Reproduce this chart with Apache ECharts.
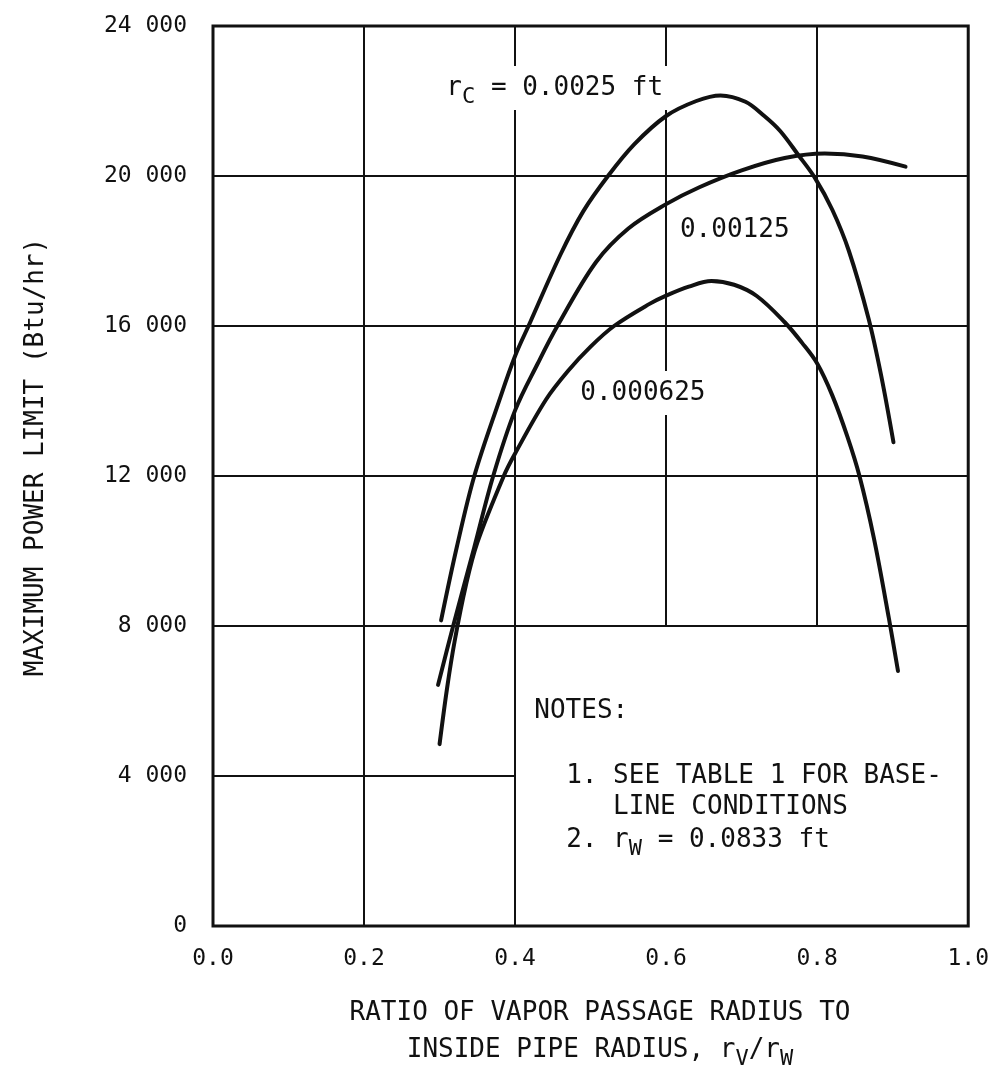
<!DOCTYPE html>
<html><head><meta charset="utf-8">
<script src="https://cdn.jsdelivr.net/npm/echarts@6/dist/echarts.min.js"></script>
<style>html,body{margin:0;padding:0;background:#fff}#c{width:992px;height:1069px}</style>
</head><body><div id="c"></div>
<script>
// ---- data ----
const xTicks = [0.0, 0.2, 0.4, 0.6, 0.8, 1.0];
const yTicks = [0, 4000, 8000, 12000, 16000, 20000, 24000];
const curveNames = ['0.0025', '0.00125', '0.000625'];
const rcA_x = [0.302,0.323,0.346,0.379,0.400,0.420,0.460,0.490,0.523,0.558,0.600,0.640,0.672,0.705,0.730,0.751,0.775,0.797,0.820,0.842,0.868,0.885,0.901];
const rcA_y = [8150,10120,12000,14010,15200,16100,17900,19050,20000,20850,21600,22000,22150,21980,21600,21200,20560,19950,19100,18000,16200,14650,12900];
const rcB_x = [0.298,0.318,0.346,0.371,0.400,0.430,0.456,0.507,0.550,0.600,0.644,0.700,0.757,0.810,0.860,0.917];
const rcB_y = [6430,8000,10100,12000,13750,15000,16000,17700,18600,19250,19700,20150,20480,20600,20520,20250];
const rcC_x = [0.300,0.310,0.320,0.335,0.350,0.385,0.400,0.441,0.470,0.500,0.531,0.578,0.600,0.630,0.660,0.690,0.720,0.757,0.780,0.800,0.820,0.840,0.856,0.875,0.895,0.907];
const rcC_y = [4850,6350,7600,9100,10225,12000,12600,14040,14800,15450,16000,16590,16810,17050,17200,17100,16800,16100,15550,15000,14150,13050,12000,10350,8200,6800];
const notesBoxX = 0.4, notesBoxY = 8000;   // notes panel occupies x>0.4, y<8000
const xTitle1 = 'RATIO OF VAPOR PASSAGE RADIUS TO';
const noteLines = ['NOTES:', '1. SEE TABLE 1 FOR BASE-', '   LINE CONDITIONS'];

// ---- chart ----
const FONT = "'DejaVu Sans Mono', monospace";
const INK = '#111';
const zip = (xs, ys) => xs.map((x, i) => [x, ys[i]]);
const xMin = xTicks[0], xMax = xTicks[xTicks.length - 1];
const yMin = yTicks[0], yMax = yTicks[yTicks.length - 1];

const gridSegs = [];
xTicks.slice(1, -1).forEach(x => {
  gridSegs.push([{ coord: [x, x > notesBoxX + 1e-9 ? notesBoxY : yMin] }, { coord: [x, yMax] }]);
});
yTicks.slice(1, -1).forEach(y => {
  gridSegs.push([{ coord: [xMin, y] }, { coord: [y < notesBoxY ? notesBoxX : xMax, y] }]);
});

const curve = (name, data) => ({
  name, type: 'line', data, smooth: 0.35, showSymbol: false, symbol: 'none', z: 5,
  lineStyle: { color: INK, width: 4, cap: 'round', join: 'round' }, silent: true
});

const chart = echarts.init(document.getElementById('c'), null, { renderer: 'canvas' });
chart.setOption({
  animation: false,
  backgroundColor: '#fff',
  grid: { left: 213, right: 22, top: 26, bottom: 143, show: true, borderColor: INK, borderWidth: 3, backgroundColor: 'transparent' },
  xAxis: {
    type: 'value', min: xMin, max: xMax, interval: 0.2,
    axisLine: { show: false }, axisTick: { show: false }, splitLine: { show: false },
    axisLabel: { fontFamily: FONT, fontSize: 23, color: INK, margin: 22, formatter: v => v.toFixed(1) }
  },
  yAxis: {
    type: 'value', min: yMin, max: yMax, interval: 4000,
    axisLine: { show: false }, axisTick: { show: false }, splitLine: { show: false },
    axisLabel: { fontFamily: FONT, fontSize: 23, color: INK, margin: 26,
      formatter: v => v === 0 ? '0' : Math.floor(v / 1000) + ' ' + String(v % 1000).padStart(3, '0') }
  },
  series: [
    { type: 'line', data: [], silent: true, z: 2,
      markLine: { silent: true, symbol: ['none', 'none'], animation: false,
        label: { show: false }, lineStyle: { color: INK, width: 2, type: 'solid' }, data: gridSegs } },
    curve(curveNames[0], zip(rcA_x, rcA_y)),
    curve(curveNames[1], zip(rcB_x, rcB_y)),
    curve(curveNames[2], zip(rcC_x, rcC_y))
  ]
});

const P = (x, y) => chart.convertToPixel({ gridIndex: 0 }, [x, y]);
const rich = {
  t: { fontFamily: FONT, fontSize: 26, fill: INK, color: INK, lineHeight: 40 },
  s: { fontFamily: FONT, fontSize: 22, fill: INK, color: INK, lineHeight: 22, verticalAlign: 'bottom' }
};
function txt(pos, text, opts) {
  return {
    type: 'text', x: pos[0], y: pos[1], z: 50,
    style: Object.assign({ text, rich, fontFamily: FONT, fontSize: 26, fill: INK,
      textAlign: 'left', textVerticalAlign: 'middle' }, opts || {})
  };
}
const g = [];
g.push(txt(P(0.305, 22350), '{t|r}{s|C}{t| = 0.0025 ft}', { backgroundColor: '#fff', padding: [2, 4, 2, 3] }));
g.push(txt(P(0.613, 18560), '{t|' + curveNames[1] + '}', { backgroundColor: '#fff', padding: [2, 4, 2, 4] }));
g.push(txt(P(0.481, 14213), '{t|' + curveNames[2] + '}', { backgroundColor: '#fff', padding: [2, 4, 2, 4] }));
g.push(txt(P(0.4254, 5733), '{t|' + noteLines[0] + '}'));
g.push(txt(P(0.4676, 4000), '{t|' + noteLines[1] + '}'));
g.push(txt(P(0.4676, 3173), '{t|' + noteLines[2] + '}'));
g.push(txt(P(0.4676, 2293), '{t|2. r}{s|W}{t| = 0.0833 ft}'));
// axis titles
g.push(txt([600, 1013], '{t|' + xTitle1 + '}', { textAlign: 'center' }));
g.push(txt([600, 1050], '{t|INSIDE PIPE RADIUS, r}{s|V}{t|/r}{s|W}', { textAlign: 'center' }));
g.push({ type: 'text', x: 36, y: 457, rotation: Math.PI / 2, z: 50,
  style: { text: 'MAXIMUM POWER LIMIT (Btu/hr)', fontFamily: FONT, fontSize: 26, fill: INK,
    textAlign: 'center', textVerticalAlign: 'middle' } });
chart.setOption({ graphic: g });
</script></body></html>
